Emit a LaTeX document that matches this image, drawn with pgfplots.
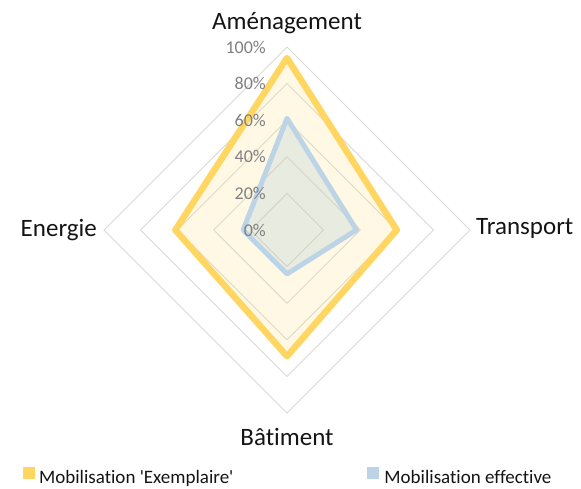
\documentclass[border=0pt]{standalone}
\usepackage{fontspec}
\setmainfont{Carlito}[Ligatures={NoCommon}]
\usepackage{pgfplots}
\pgfplotsset{compat=1.18}
\definecolor{gridc}{RGB}{217,217,217}
\definecolor{goldc}{RGB}{255,214,98}
\definecolor{bluel}{RGB}{188,212,230}
\definecolor{bluef}{RGB}{165,198,205}
\definecolor{tickc}{RGB}{128,128,128}
\definecolor{txtc}{RGB}{20,20,20}
\begin{document}
\begin{tikzpicture}
\useasboundingbox (-287pt,-258pt) rectangle (294pt,230pt);
\begin{axis}[
  at={(0pt,0pt)}, anchor=center,
  scale only axis, width=366pt, height=366pt,
  xmin=-1, xmax=1, ymin=-1, ymax=1,
  hide axis, clip=false,
  legend columns=2,
  legend cell align=left,
  legend style={at={(axis cs:-1.443,-1.295)}, anchor=north west,
    draw=none, fill=none, inner sep=0pt,
    font=\fontsize{19}{19}\selectfont, text=txtc,
    nodes={inner sep=0pt},
    /tikz/column 1/.style={column sep=4pt},
    /tikz/column 2/.style={column sep=134pt},
    /tikz/column 3/.style={column sep=5pt}},
]
% grid rings
\addplot[gridc, line width=0.9pt, line join=miter, data cs=polar, forget plot] coordinates {(90,0.2) (0,0.2) (270,0.2) (180,0.2)} -- cycle;
\addplot[gridc, line width=0.9pt, line join=miter, data cs=polar, forget plot] coordinates {(90,0.4) (0,0.4) (270,0.4) (180,0.4)} -- cycle;
\addplot[gridc, line width=0.9pt, line join=miter, data cs=polar, forget plot] coordinates {(90,0.6) (0,0.6) (270,0.6) (180,0.6)} -- cycle;
\addplot[gridc, line width=0.9pt, line join=miter, data cs=polar, forget plot] coordinates {(90,0.8) (0,0.8) (270,0.8) (180,0.8)} -- cycle;
\addplot[gridc, line width=0.9pt, line join=miter, data cs=polar, forget plot] coordinates {(90,1.0) (0,1.0) (270,1.0) (180,1.0)} -- cycle;
% series
\addplot[draw=goldc, line width=6.5pt, line join=round, fill=goldc, fill opacity=0.17, draw opacity=1, data cs=polar,
  legend image code/.code={\fill[goldc, fill opacity=1, draw=none] (0pt,-2pt) rectangle (12pt,10pt);}]
  coordinates {(90,0.94) (0,0.60) (270,0.69) (180,0.61)} -- cycle;
\addlegendentry{Mobilisation \textquotesingle Exemplaire\textquotesingle}
\addplot[draw=bluel, line width=5pt, line join=round, fill=bluef, fill opacity=0.25, draw opacity=1, data cs=polar,
  legend image code/.code={\fill[bluel, fill opacity=1, draw=none] (0pt,-2pt) rectangle (12pt,10pt);}]
  coordinates {(90,0.61) (0,0.38) (270,0.24) (180,0.24)} -- cycle;
\addlegendentry{Mobilisation effective}
% tick labels
\foreach \v/\t in {0/0,0.2/20,0.4/40,0.6/60,0.8/80,1/100} {
  \edef\temp{\noexpand\node[anchor=east, inner sep=0pt, text=tickc, font=\noexpand\fontsize{18}{18}\noexpand\selectfont] at (axis cs:-0.115,\v) {\t\noexpand\%};}
  \temp
}
% category labels
\node[anchor=base, inner sep=0pt, text=txtc, font=\fontsize{25}{25}\selectfont] at (axis cs:0,1.093) {Aménagement};
\node[anchor=base west, inner sep=0pt, text=txtc, font=\fontsize{25}{25}\selectfont] at (axis cs:1.033,-0.027) {Transport};
\node[anchor=base, inner sep=0pt, text=txtc, font=\fontsize{25}{25}\selectfont] at (axis cs:0,-1.175) {Bâtiment};
\node[anchor=base east, inner sep=0pt, text=txtc, font=\fontsize{25}{25}\selectfont] at (axis cs:-1.038,-0.033) {Energie};
\end{axis}
\end{tikzpicture}
\end{document}
